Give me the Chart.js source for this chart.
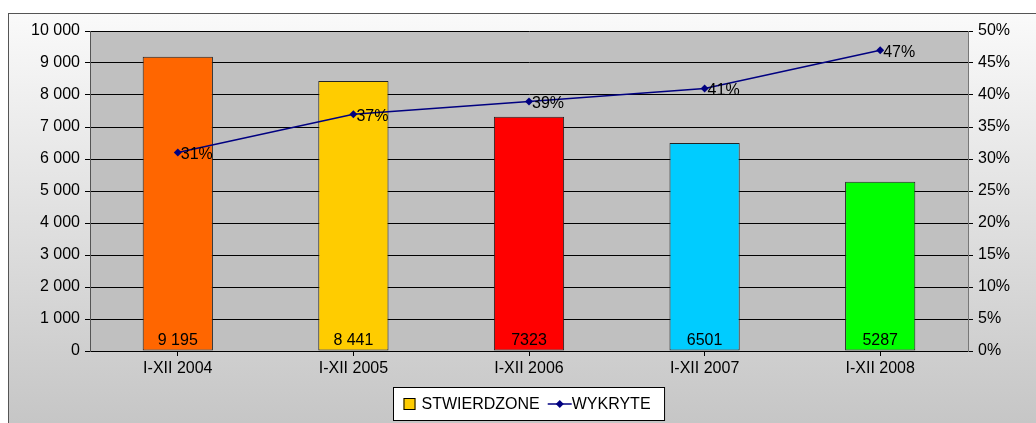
<!DOCTYPE html>
<html>
<head>
<meta charset="utf-8">
<script src="https://cdn.jsdelivr.net/npm/chart.js"></script>
<style>
  html, body { margin: 0; padding: 0; background: #fff; }
  #wrap { width: 1036px; height: 423px; }
</style>
</head>
<body>
<div id="wrap"><canvas id="chart" width="1036" height="423"></canvas></div>
<script>

// categories and series
const periods = ['I-XII 2004', 'I-XII 2005', 'I-XII 2006', 'I-XII 2007', 'I-XII 2008'];
const stwierdzone = [9195, 8441, 7323, 6501, 5287];
const stwierdzoneLabels = ['9 195', '8 441', '7323', '6501', '5287'];
const wykryte = [31, 37, 39, 41, 47];
const barColors = ['#FF6600', '#FFCC00', '#FF0000', '#00CCFF', '#00FF00'];

const FONT = '"Liberation Sans", Arial, sans-serif';
const FS = 16;

// background, outer frame, grey plot area
const backdrop = {
  id: 'backdrop',
  beforeDraw(chart) {
    const ctx = chart.ctx, a = chart.chartArea;
    ctx.save();
    ctx.fillStyle = '#fff';
    ctx.fillRect(0, 0, chart.width, chart.height);
    const g = ctx.createLinearGradient(0, 13, 0, chart.height);
    g.addColorStop(0, '#FAFAFA');
    g.addColorStop(1, '#C6C6C6');
    ctx.fillStyle = g;
    ctx.fillRect(8, 13, chart.width, chart.height);
    ctx.strokeStyle = '#555';
    ctx.lineWidth = 1;
    ctx.strokeRect(8.5, 13.5, chart.width + 10, chart.height + 10);
    ctx.fillStyle = '#C0C0C0';
    ctx.fillRect(a.left, a.top, a.right - a.left, a.bottom - a.top);
    ctx.restore();
  }
};

// value labels on bars and points + boxed legend
const labelsAndLegend = {
  id: 'labelsAndLegend',
  afterDraw(chart) {
    const ctx = chart.ctx, a = chart.chartArea;
    ctx.save();
    ctx.font = FS + 'px ' + FONT;
    ctx.fillStyle = '#000';

    // bar labels near the bottom
    ctx.textAlign = 'center';
    ctx.textBaseline = 'alphabetic';
    chart.getDatasetMeta(0).data.forEach((bar, i) => {
      ctx.fillText(stwierdzoneLabels[i], bar.x, a.bottom - 6);
    });

    // line labels to the right of points
    ctx.textAlign = 'left';
    ctx.textBaseline = 'middle';
    chart.getDatasetMeta(1).data.forEach((pt, i) => {
      ctx.fillText(wykryte[i] + '%', pt.x + 3, pt.y + 2);
    });

    // legend
    const t1 = chart.data.datasets[0].label, t2 = chart.data.datasets[1].label;
    const w1 = ctx.measureText(t1).width, w2 = ctx.measureText(t2).width;
    const boxW = 10 + 12 + 6 + w1 + 8 + 26 + 0 + w2 + 12;
    const cx = (a.left + a.right) / 2;
    const bx = Math.round(cx - boxW / 2) + 0.5, by = 387.5, bh = 33;
    ctx.fillStyle = '#fff';
    ctx.fillRect(bx, by, boxW, bh);
    ctx.strokeStyle = '#000';
    ctx.lineWidth = 1;
    ctx.strokeRect(bx, by, boxW, bh);
    const my = by + bh / 2;
    let x = bx + 10;
    ctx.fillStyle = '#FFCC00';
    ctx.fillRect(x, my - 6, 12, 12);
    ctx.strokeRect(x + 0.5, my - 5.5, 11, 11);
    x += 12 + 6;
    ctx.fillStyle = '#000';
    ctx.textBaseline = 'middle';
    ctx.fillText(t1, x, my + 1);
    x += w1 + 8;
    ctx.strokeStyle = '#000080';
    ctx.lineWidth = 1.5;
    ctx.beginPath();
    ctx.moveTo(x, my);
    ctx.lineTo(x + 24, my);
    ctx.stroke();
    ctx.fillStyle = '#000080';
    ctx.beginPath();
    ctx.moveTo(x + 12, my - 4);
    ctx.lineTo(x + 16, my);
    ctx.lineTo(x + 12, my + 4);
    ctx.lineTo(x + 8, my);
    ctx.closePath();
    ctx.fill();
    x += 24;
    ctx.fillStyle = '#000';
    ctx.fillText(t2, x, my + 1);
    ctx.restore();
  }
};

new Chart(document.getElementById('chart'), {
  type: 'bar',
  data: {
    labels: periods,
    datasets: [
      {
        type: 'bar',
        label: 'STWIERDZONE',
        data: stwierdzone,
        backgroundColor: barColors,
        borderColor: '#222',
        borderWidth: 1,
        borderSkipped: false,
        barPercentage: 0.4,
        categoryPercentage: 1,
        yAxisID: 'y',
        order: 2
      },
      {
        type: 'line',
        label: 'WYKRYTE',
        data: wykryte,
        borderColor: '#000080',
        backgroundColor: '#000080',
        borderWidth: 1.5,
        pointStyle: 'rectRot',
        pointRadius: 4,
        pointBorderWidth: 0,
        tension: 0,
        yAxisID: 'y2',
        order: 1
      }
    ]
  },
  options: {
    responsive: false,
    animation: false,
    devicePixelRatio: 1,
    layout: { padding: { top: 31, bottom: 42, left: 0, right: 0 } },
    plugins: { legend: { display: false }, tooltip: { enabled: false } },
    scales: {
      x: {
        grid: { offset: false, drawOnChartArea: false, color: '#000', tickLength: 5 },
        border: { color: '#000' },
        ticks: { color: '#000', font: { family: FONT, size: FS }, padding: 3, maxRotation: 0 },
        afterFit(s) { s.height = 30; }
      },
      y: {
        position: 'left',
        min: 0, max: 10000,
        ticks: {
          stepSize: 1000, color: '#000', padding: 5,
          font: { family: FONT, size: FS },
          callback: v => v >= 1000 ? Math.floor(v / 1000) + ' ' + String(v % 1000).padStart(3, '0') : String(v)
        },
        grid: { color: '#000', tickLength: 5 },
        border: { color: '#555' },
        afterFit(s) { s.width = 90; }
      },
      y2: {
        position: 'right',
        min: 0, max: 50,
        ticks: {
          stepSize: 5, color: '#000', padding: 5,
          font: { family: FONT, size: FS },
          callback: v => v + '%'
        },
        grid: { drawOnChartArea: false, color: '#000', tickLength: 5 },
        border: { color: '#777' },
        afterFit(s) { s.width = 68; }
      }
    }
  },
  plugins: [backdrop, labelsAndLegend]
});
</script>
</body>
</html>
